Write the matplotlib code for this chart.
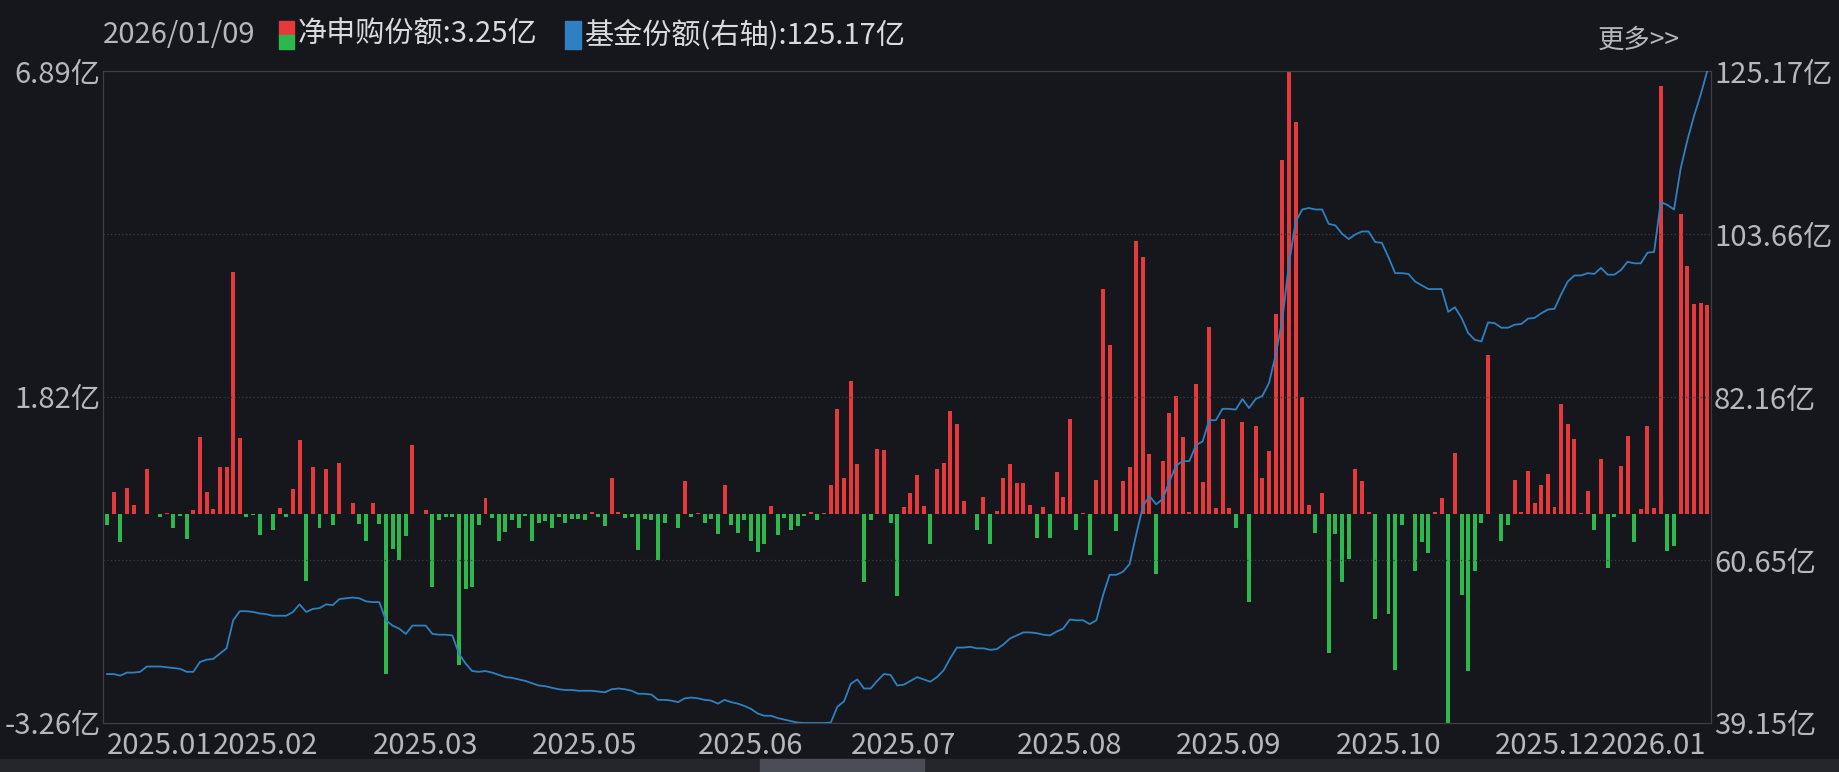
import matplotlib.pyplot as plt
import matplotlib.patches as mpatches
import numpy as np

plt.rcParams['font.family'] = ['Liberation Sans Narrow', 'Noto Sans CJK SC', 'DejaVu Sans']

bg = "#15171c"
red = "#e5393c"
green = "#2db84d"
blue = "#2f80c0"
txt = "#b4b7bc"

# net subscription (亿), one per trading day
net_flow = [
    -0.18, 0.33, -0.45, 0.40, 0.14, -0.01, 0.70, 0.0, -0.06, 0.01, -0.23, -0.04, -0.40, 0.06, 1.20, 0.33,
    0.07, 0.73, 0.72, 3.76, 1.17, -0.06, -0.02, -0.33, -0.01, -0.26, 0.08, -0.06, 0.39, 1.14, -1.05, 0.73,
    -0.23, 0.70, -0.18, 0.78, -0.01, 0.17, -0.16, -0.42, 0.17, -0.16, -2.50, -0.55, -0.73, -0.35, 1.06, -0.01,
    0.06, -1.14, -0.10, -0.06, -0.06, -2.35, -1.18, -1.15, -0.18, 0.25, -0.07, -0.42, -0.28, -0.10, -0.22,
    -0.03, -0.43, -0.14, -0.12, -0.22, -0.05, -0.15, -0.08, -0.08, -0.10, 0.03, -0.05, -0.20, 0.56, 0.02,
    -0.07, -0.05, -0.56, -0.08, -0.10, -0.73, -0.14, -0.01, -0.22, 0.50, -0.06, 0.01, -0.15, -0.08, -0.32,
    0.44, -0.18, -0.30, -0.10, -0.43, -0.60, -0.47, 0.12, -0.33, -0.07, -0.26, -0.20, -0.03, 0.03, -0.10,
    0.01, 0.45, 1.63, 0.56, 2.07, 0.77, -1.06, -0.10, 1.01, 0.99, -0.14, -1.28, 0.10, 0.32, 0.60,
    0.12, -0.48, 0.70, 0.79, 1.59, 1.39, 0.20, -0.01, -0.26, 0.26, -0.47, 0.04, 0.56, 0.77, 0.48, 0.47,
    0.13, -0.38, 0.10, -0.38, 0.64, 0.26, 1.48, -0.25, 0.01, -0.64, 0.53, 3.49, 2.63, -0.27, 0.51, 0.73,
    4.25, 4.00, 0.92, -0.94, 0.82, 1.56, 1.83, 1.20, 0.03, 2.02, 0.49, 2.91, 0.08, 1.48, 0.08, -0.22,
    1.43, -1.37, 1.37, 0.55, 0.98, 3.10, 5.50, 6.89, 6.09, 1.82, 0.13, -0.31,
    0.32, -2.17, -0.32, -1.06, -0.70, 0.69, 0.50, 0.03, -1.64, -0.01, -1.57, -2.43, -0.18, -0.01, -0.90,
    -0.45, -0.62, 0.02, 0.24, -3.26, 0.95, -1.26, -2.45, -0.89, -0.14, 2.47, -0.01, -0.42, -0.17, 0.52,
    0.02, 0.67, 0.17, 0.45, 0.62, 0.10, 1.70, 1.40, 1.16, 0.01, 0.35, -0.26, 0.85, -0.85, -0.05, 0.74,
    1.21, -0.45, 0.07, 1.36, 0.09, 6.66, -0.58, -0.51, 4.66, 3.86, 3.27, 3.28, 3.25,
]

# fund shares (亿), right axis
fund_share = [
    45.6, 45.6, 45.4, 45.8, 45.8, 45.9, 46.6, 46.6, 46.6, 46.5, 46.4, 46.3, 45.9, 45.9, 47.2, 47.5,
    47.6, 48.3, 49.0, 52.7, 53.9, 53.9, 53.8, 53.6, 53.5, 53.3, 53.3, 53.3, 53.8, 54.8, 53.8, 54.2,
    54.3, 54.8, 54.7, 55.5, 55.6, 55.7, 55.6, 55.2, 55.1, 55.1, 52.7, 52.0, 51.6, 50.9, 52.0, 52.0,
    52.0, 50.9, 50.8, 50.8, 50.7, 48.3, 47.0, 46.0, 45.9, 46.0, 45.8, 45.5, 45.2, 45.1, 44.9,
    44.7, 44.4, 44.1, 44.0, 43.8, 43.6, 43.5, 43.5, 43.4, 43.4, 43.4, 43.3, 43.2, 43.6, 43.7, 43.6,
    43.4, 43.0, 43.0, 42.9, 42.2, 42.2, 42.1, 41.9, 42.4, 42.5, 42.4, 42.2, 42.1, 41.7, 42.2, 41.9,
    41.7, 41.4, 41.0, 40.4, 40.1, 40.1, 39.8, 39.6, 39.4, 39.2, 39.15, 39.15, 39.15, 39.15, 39.2,
    41.3, 42.0, 44.3, 44.9, 43.7, 43.7, 44.7, 45.6, 45.5, 44.1, 44.2, 44.7, 45.2,
    44.9, 44.6, 45.2, 46.1, 47.7, 49.1, 49.1, 49.2, 49.0, 49.0, 48.8, 48.9, 49.5, 50.3, 50.7, 51.1,
    51.1, 51.0, 50.8, 50.7, 51.2, 51.6, 52.8, 52.7, 52.7, 52.2, 52.7, 56.0, 58.7, 58.7, 59.1, 60.1,
    64.0, 67.7, 69.1, 68.0, 68.7, 71.0, 73.1, 73.7, 73.7, 75.8, 76.3, 79.1, 79.1, 80.6, 80.6, 80.5,
    81.9, 80.7, 81.9, 82.3, 84.0, 87.7, 92.3, 99.7, 105.2, 106.9, 107.1, 106.9,
    106.9, 105.0, 104.8, 103.7, 103.0, 103.6, 104.0, 104.0, 102.6, 102.5, 100.6, 98.5, 98.5, 98.4, 97.4,
    96.9, 96.4, 96.4, 96.4, 93.4, 94.0, 92.6, 90.6, 89.7, 89.5, 92.0, 91.9, 91.3, 91.3, 91.7,
    91.8, 92.5, 92.6, 93.2, 93.7, 93.8, 95.7, 97.4, 98.2, 98.2, 98.5, 98.4, 99.2, 98.3, 98.3, 98.9,
    100.0, 99.8, 99.8, 101.2, 101.3, 107.9, 107.5, 106.9, 112.3, 116.0, 119.2, 122.0, 125.17,
]

month_labels = ["2025.01", "2025.02", "2025.03", "2025.05", "2025.06", "2025.07",
                "2025.08", "2025.09", "2025.10", "2025.12", "2026.01"]
month_start = [0, 16, 40, 64, 89, 112, 137, 161, 185, 209, 225]

left_ticks = [-3.26, 1.82, 6.89]
right_ticks = [39.15, 60.65, 82.16, 103.66, 125.17]

fig = plt.figure(figsize=(18.4, 7.72), dpi=100, facecolor=bg)
ax = fig.add_axes([0.056, 0.0635, 0.874, 0.8445], facecolor=bg)
ax2 = ax.twinx()

n = len(net_flow)
x = np.arange(n)
vals = np.array(net_flow)
ax.bar(x, vals, width=0.6, color=np.where(vals >= 0, red, green), zorder=2)
ax.set_xlim(-0.6, n - 0.4)
ax.set_ylim(-3.26, 6.89)

ax2.plot(np.arange(len(fund_share)), fund_share, color=blue, lw=1.3, zorder=3)
ax2.set_ylim(39.15, 125.17)

for g in [60.65, 82.16, 103.66]:
    ax2.axhline(g, color="#3a3d44", lw=0.9, ls=(0, (1, 2)), zorder=0)

for a in (ax, ax2):
    for s in a.spines.values():
        s.set_color("#3c3f46")
    a.tick_params(length=0, colors=txt, labelsize=21)

ax.set_yticks(left_ticks, [f"{t:.2f}亿" for t in left_ticks])
ax2.set_yticks(right_ticks, [f"{t:.2f}亿" for t in right_ticks])
ax.tick_params(axis="y", pad=2)
ax2.tick_params(axis="y", pad=2)
ax.set_xticks(month_start, month_labels)
for lbl in ax.get_xticklabels():
    lbl.set_horizontalalignment("left")
ax.tick_params(axis="x", pad=6)

# header
fig.text(0.056, 0.955, "2026/01/09", color=txt, fontsize=21, va="center")
fig.patches.append(mpatches.Rectangle((0.1515, 0.955), 0.0085, 0.018, color=red, transform=fig.transFigure))
fig.patches.append(mpatches.Rectangle((0.1515, 0.937), 0.0085, 0.018, color=green, transform=fig.transFigure))
fig.text(0.162, 0.955, "净申购份额:3.25亿", color="#d8dadd", fontsize=21, va="center")
fig.patches.append(mpatches.Rectangle((0.307, 0.937), 0.0085, 0.036, color=blue, transform=fig.transFigure))
fig.text(0.318, 0.955, "基金份额(右轴):125.17亿", color="#d8dadd", fontsize=21, va="center")
fig.text(0.913, 0.948, "更多>>", color=txt, fontsize=19, va="center", ha="right")

# bottom scroll strip
fig.patches.append(mpatches.Rectangle((0, 0), 1, 0.017, color="#24262c", transform=fig.transFigure))
fig.patches.append(mpatches.Rectangle((0.413, 0), 0.089, 0.017, color="#4a4d55", transform=fig.transFigure))

fig.savefig("out.png", dpi=100, facecolor=bg)
